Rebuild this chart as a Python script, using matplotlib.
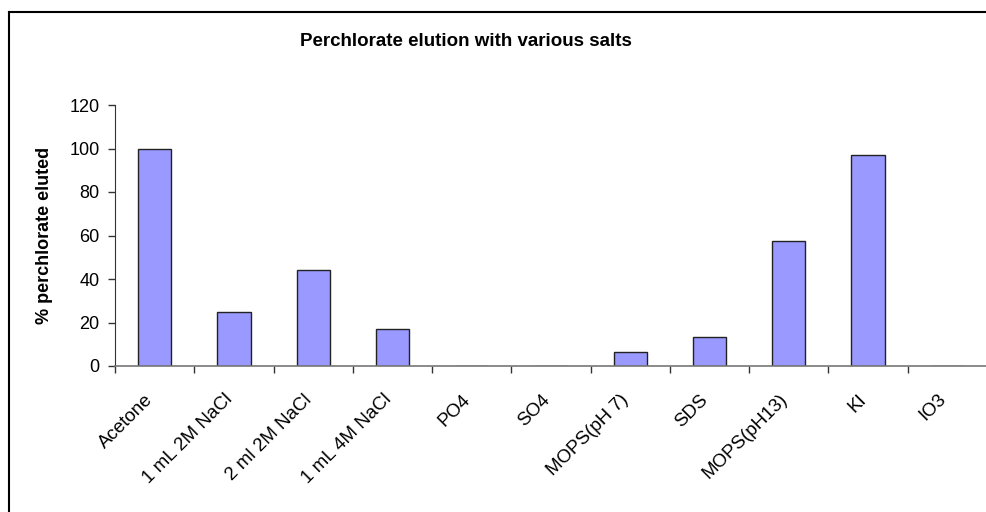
import matplotlib
matplotlib.use("Agg")
import matplotlib.pyplot as plt
import matplotlib.transforms as mtransforms
import numpy as np
from matplotlib.lines import Line2D
from matplotlib.ticker import FixedLocator, NullFormatter

plt.rcParams['font.family'] = ['Liberation Sans', 'DejaVu Sans']

salts = ['Acetone', '1 mL 2M NaCl', '2 ml 2M NaCl', '1 mL 4M NaCl', 'PO4', 'SO4',
         'MOPS(pH 7)', 'SDS', 'MOPS(pH13)', 'KI', 'IO3']
eluted = [100, 25, 44, 17, 0, 0, 6.6, 13.2, 57.3, 97.2, 0]

fig = plt.figure(figsize=(9.87, 5.12), dpi=100)
ax = fig.add_axes([115 / 987, 1 - 366 / 512, 872 / 987, 261 / 512])

x = np.arange(len(salts))
ax.bar(x, eluted, width=0.42, color='#9999FF', edgecolor='#222222', linewidth=1.0)

ax.set_xlim(-0.5, len(salts) - 0.5)
ax.set_ylim(0, 120)
ax.set_yticks(range(0, 121, 20))
ax.tick_params(axis='y', labelsize=13, length=5, width=1, color='#333333', pad=6)

# category labels sit on major ticks, the tick marks go between categories
ax.set_xticks(x)
ax.set_xticklabels(salts, rotation=45, ha='right', va='top', rotation_mode='anchor', fontsize=13.5)
ax.tick_params(axis='x', which='major', length=0, pad=18)
shift = mtransforms.ScaledTranslation(-10 / 100, 0, fig.dpi_scale_trans)
for lbl in ax.get_xticklabels():
    lbl.set_transform(lbl.get_transform() + shift)
ax.xaxis.set_minor_locator(FixedLocator(np.arange(-0.5, len(salts), 1)))
ax.xaxis.set_minor_formatter(NullFormatter())
ax.tick_params(axis='x', which='minor', length=5, width=1, color='#333333')

for s in ['top', 'right']:
    ax.spines[s].set_visible(False)
ax.spines['left'].set_color('#333333')
ax.spines['bottom'].set_color('#777777')
ax.spines['bottom'].set_linewidth(1.2)

ax.set_ylabel('% perchlorate eluted', fontsize=13, fontweight='bold', labelpad=12)
fig.text(466 / 987, 1 - 42 / 512, 'Perchlorate elution with various salts',
         ha='center', va='center', fontsize=13.5, fontweight='bold')

# chart area frame
fig.add_artist(Line2D([9 / 987, 9 / 987], [1 - 12 / 512, 0], color='black', lw=1.5))
fig.add_artist(Line2D([9 / 987, 1], [1 - 12 / 512, 1 - 12 / 512], color='black', lw=1.5))

fig.savefig('out.png', dpi=100)
